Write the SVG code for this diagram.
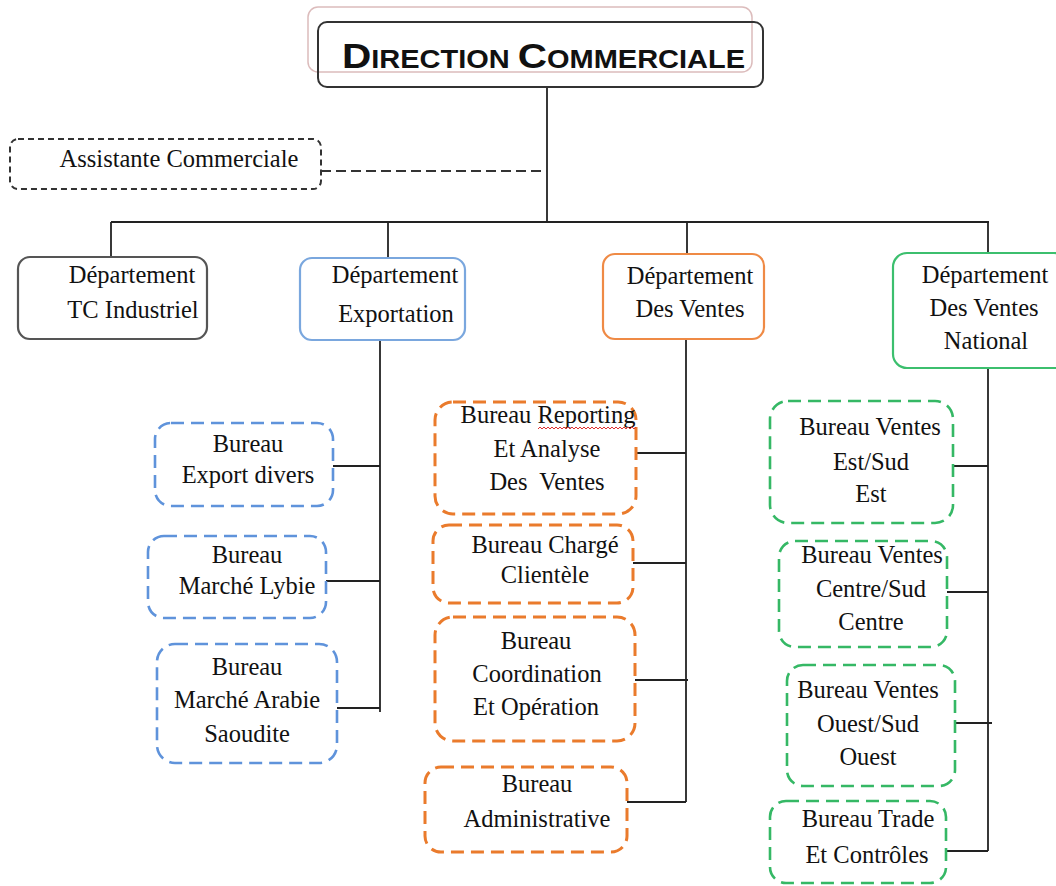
<svg xmlns="http://www.w3.org/2000/svg" width="1056" height="886" viewBox="0 0 1056 886">
  <style>
    text { font-family: "Liberation Serif", "Times New Roman", serif; font-size: 24.5px; fill: #111; text-anchor: middle; }
    .title { font-family: "Liberation Sans", Arial, sans-serif; font-weight: bold; text-anchor: start; }
    .line { stroke: #222; stroke-width: 1.8; fill: none; }
    .dash { stroke: #333; stroke-width: 2; fill: none; stroke-dasharray: 10 5; }
    .solid-dark { fill: #fff; stroke: #555; stroke-width: 2.2; }
    .solid-blue { fill: #fff; stroke: #7aa7de; stroke-width: 2.2; }
    .solid-orange { fill: #fff; stroke: #ef8a45; stroke-width: 2.2; }
    .solid-green { fill: #fff; stroke: #3cbf6e; stroke-width: 2.2; }
    .d-blue { fill: #fff; stroke: #5f93db; stroke-width: 2.6; stroke-dasharray: 13 7; }
    .d-orange { fill: #fff; stroke: #ea7b2c; stroke-width: 3; stroke-dasharray: 13 7; }
    .d-green { fill: #fff; stroke: #35b865; stroke-width: 2.6; stroke-dasharray: 13 7; }
    .d-grey { fill: #fff; stroke: #333; stroke-width: 2; stroke-dasharray: 6 4; }
  </style>

  <!-- connectors -->
  <g id="connectors">
    <line class="line" x1="547" y1="87" x2="547" y2="222"/>
    <line class="dash" x1="321" y1="171" x2="547" y2="171"/>
    <line class="line" x1="111" y1="222" x2="989" y2="222"/>
    <line class="line" x1="111" y1="222" x2="111" y2="257"/>
    <line class="line" x1="388" y1="222" x2="388" y2="258"/>
    <line class="line" x1="687" y1="222" x2="687" y2="254"/>
    <line class="line" x1="988" y1="222" x2="988" y2="253"/>
    <!-- Exportation branch -->
    <line class="line" x1="380" y1="340" x2="380" y2="712"/>
    <line class="line" x1="333" y1="466" x2="380" y2="466"/>
    <line class="line" x1="326" y1="581" x2="380" y2="581"/>
    <line class="line" x1="337" y1="708" x2="380" y2="708"/>
    <!-- Ventes branch -->
    <line class="line" x1="686" y1="339" x2="686" y2="802"/>
    <line class="line" x1="636" y1="453" x2="686" y2="453"/>
    <line class="line" x1="633" y1="563" x2="686" y2="563"/>
    <line class="line" x1="635" y1="680" x2="688" y2="680"/>
    <line class="line" x1="627" y1="802" x2="686" y2="802"/>
    <!-- National branch -->
    <line class="line" x1="988" y1="368" x2="988" y2="851"/>
    <line class="line" x1="953" y1="466" x2="988" y2="466"/>
    <line class="line" x1="947" y1="592" x2="988" y2="592"/>
    <line class="line" x1="955" y1="723" x2="992" y2="723"/>
    <line class="line" x1="946" y1="851" x2="988" y2="851"/>
  </g>

  <!-- top -->
  <g id="direction">
    <rect x="308" y="7" width="444" height="65" rx="10" fill="none" stroke="#dcbcbc" stroke-width="1.5"/>
    <rect x="318" y="22" width="445" height="65" rx="9" fill="none" stroke="#333" stroke-width="2"/>
    <text class="title" x="342" y="68" textLength="403" lengthAdjust="spacingAndGlyphs"><tspan font-size="35">D</tspan><tspan font-size="25">IRECTION </tspan><tspan font-size="35">C</tspan><tspan font-size="25">OMMERCIALE</tspan></text>
  </g>

  <g id="assistante">
    <rect class="d-grey" x="10" y="139" width="311" height="50" rx="8"/>
    <text x="179" y="167">Assistante Commerciale</text>
  </g>

  <!-- departments -->
  <g id="dep-tc">
    <rect class="solid-dark" x="18" y="257" width="189" height="82" rx="12"/>
    <text x="132" y="283">Département</text>
    <text x="133" y="318">TC Industriel</text>
  </g>
  <g id="dep-export">
    <rect class="solid-blue" x="300" y="258" width="165" height="82" rx="12"/>
    <text x="395" y="283">Département</text>
    <text x="396" y="322">Exportation</text>
  </g>
  <g id="dep-ventes">
    <rect class="solid-orange" x="603" y="254" width="161" height="85" rx="12"/>
    <text x="690" y="284">Département</text>
    <text x="690" y="317">Des Ventes</text>
  </g>
  <g id="dep-national">
    <rect class="solid-green" x="893" y="253" width="175" height="115" rx="14"/>
    <text x="985" y="283">Département</text>
    <text x="984" y="316">Des Ventes</text>
    <text x="986" y="349">National</text>
  </g>

  <!-- Exportation offices -->
  <g id="bur-export-divers">
    <rect class="d-blue" x="155" y="423" width="178" height="83" rx="16"/>
    <text x="248" y="452">Bureau</text>
    <text x="248" y="483">Export divers</text>
  </g>
  <g id="bur-lybie">
    <rect class="d-blue" x="148" y="536" width="178" height="82" rx="16"/>
    <text x="247" y="563">Bureau</text>
    <text x="247" y="594">Marché Lybie</text>
  </g>
  <g id="bur-arabie">
    <rect class="d-blue" x="157" y="644" width="180" height="119" rx="18"/>
    <text x="247" y="675">Bureau</text>
    <text x="247" y="708">Marché Arabie</text>
    <text x="247" y="742">Saoudite</text>
  </g>

  <!-- Ventes offices -->
  <g id="bur-reporting">
    <rect class="d-orange" x="435" y="402" width="201" height="112" rx="18"/>
    <text x="548" y="423">Bureau Reporting</text>
    <path d="M538 429 l2 -2 l2 2 l2 -2 l2 2 l2 -2 l2 2 l2 -2 l2 2 l2 -2 l2 2 l2 -2 l2 2 l2 -2 l2 2 l2 -2 l2 2 l2 -2 l2 2 l2 -2 l2 2 l2 -2 l2 2 l2 -2 l2 2 l2 -2 l2 2 l2 -2 l2 2 l2 -2 l2 2 l2 -2 l2 2 l2 -2 l2 2 l2 -2 l2 2 l2 -2 l2 2 l2 -2 l2 2 l2 -2 l2 2 l2 -2 l2 2 l2 -2 l2 2 l2 -2 l2 2 l2 -2" fill="none" stroke="#e03030" stroke-width="1"/>
    <text x="547" y="457">Et Analyse</text>
    <text x="547" y="490" xml:space="preserve">Des  Ventes</text>
  </g>
  <g id="bur-charge">
    <rect class="d-orange" x="433" y="525" width="200" height="78" rx="16"/>
    <text x="545" y="553">Bureau Chargé</text>
    <text x="545" y="583">Clientèle</text>
  </g>
  <g id="bur-coordination">
    <rect class="d-orange" x="435" y="617" width="200" height="124" rx="18"/>
    <text x="536" y="649">Bureau</text>
    <text x="537" y="682">Coordination</text>
    <text x="536" y="715">Et Opération</text>
  </g>
  <g id="bur-administrative">
    <rect class="d-orange" x="425" y="767" width="202" height="85" rx="16"/>
    <text x="537" y="792">Bureau</text>
    <text x="537" y="827">Administrative</text>
  </g>

  <!-- National offices -->
  <g id="bur-est">
    <rect class="d-green" x="770" y="401" width="183" height="122" rx="18"/>
    <text x="870" y="435">Bureau Ventes</text>
    <text x="871" y="470">Est/Sud</text>
    <text x="871" y="502">Est</text>
  </g>
  <g id="bur-centre">
    <rect class="d-green" x="779" y="541" width="168" height="106" rx="16"/>
    <text x="872" y="563">Bureau Ventes</text>
    <text x="871" y="597">Centre/Sud</text>
    <text x="871" y="630">Centre</text>
  </g>
  <g id="bur-ouest">
    <rect class="d-green" x="787" y="665" width="168" height="121" rx="16"/>
    <text x="868" y="698">Bureau Ventes</text>
    <text x="868" y="732">Ouest/Sud</text>
    <text x="868" y="765">Ouest</text>
  </g>
  <g id="bur-trade">
    <rect class="d-green" x="770" y="801" width="176" height="82" rx="16"/>
    <text x="868" y="827">Bureau Trade</text>
    <text x="867" y="863">Et Contrôles</text>
  </g>
</svg>
